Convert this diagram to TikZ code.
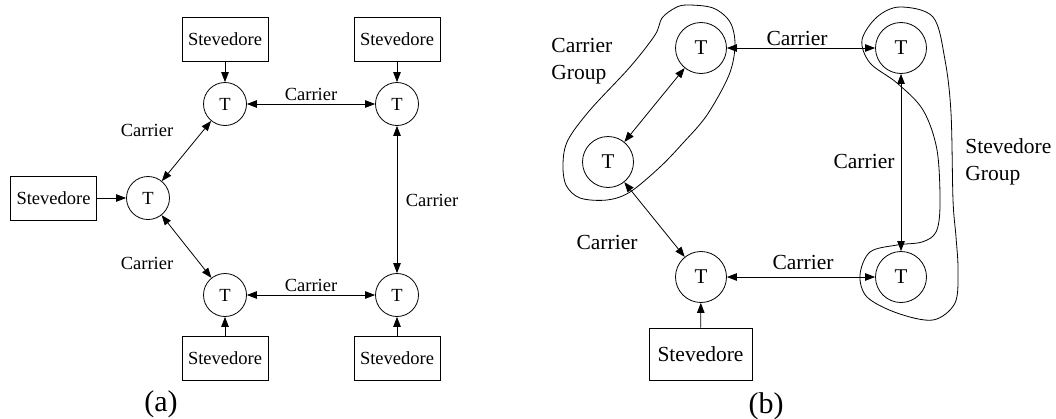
\documentclass[tikz,border=0pt]{standalone}
\usepackage{fontspec}
\setmainfont{Liberation Serif}
\usetikzlibrary{arrows.meta}
\begin{document}
\begin{tikzpicture}[x=1pt,y=-1pt,line width=0.8pt,
  >={Triangle[length=10pt,width=7.5pt]},
  dbl/.style={<->},
  sgl/.style={->},
  ltnode/.style={circle,draw,minimum size=43pt,inner sep=0pt,font=\fontsize{18.5}{22}\selectfont},
  lbox/.style={rectangle,draw,minimum width=86pt,minimum height=44pt,inner sep=0pt,font=\fontsize{18.5}{22}\selectfont},
  ltxt/.style={inner sep=0pt,font=\fontsize{18.5}{22}\selectfont},
  rtnode/.style={circle,draw,minimum size=51pt,inner sep=0pt,font=\fontsize{21}{25}\selectfont},
  rbox/.style={rectangle,draw,minimum width=103pt,minimum height=52pt,inner sep=0pt,font=\fontsize{21.5}{26}\selectfont},
  rtxt/.style={inner sep=0pt,font=\fontsize{21.5}{27}\selectfont},
  captxt/.style={inner sep=0pt,font=\fontsize{30}{34}\selectfont},
  blob/.style={line width=0.8pt,smooth cycle,tension=0.55}]
\useasboundingbox (0,0) rectangle (1056,418);
% ---------- (a) ----------
\node[ltnode] (aL)  at (148,198) {T};
\node[ltnode] (aTL) at (225,104) {T};
\node[ltnode] (aBL) at (225,295) {T};
\node[ltnode] (aTR) at (397,104) {T};
\node[ltnode] (aBR) at (397,295) {T};
\node[lbox] (sL)  at (53.5,198) {Stevedore};
\node[lbox] (sTL) at (225,39) {Stevedore};
\node[lbox] (sBL) at (225,358.5) {Stevedore};
\node[lbox] (sTR) at (397,39) {Stevedore};
\node[lbox] (sBR) at (397,358.5) {Stevedore};
\draw[sgl] (sL) -- (aL);
\draw[sgl] (sTL) -- (aTL);
\draw[sgl] (sBL) -- (aBL);
\draw[sgl] (sTR) -- (aTR);
\draw[sgl] (sBR) -- (aBR);
\draw[dbl] (aTL) -- (aL);
\draw[dbl] (aL) -- (aBL);
\draw[dbl] (aTL) -- (aTR);
\draw[dbl] (aBL) -- (aBR);
\draw[dbl] (aTR) -- (aBR);
\node[ltxt] (c1) at (147,130) {Carrier};
\node[ltxt] (c2) at (147,263) {Carrier};
\node[ltxt] (c3) at (311,94) {Carrier};
\node[ltxt] (c4) at (311,285) {Carrier};
\node[ltxt] (c5) at (432,200) {Carrier};
\node[captxt] (capa) at (161,404) {(a)};
% ---------- (b) ----------
\draw[blob] plot coordinates {(687,5) (713,8) (730,22) (735,45) (729,75) (707,115) (683,143) (660,167) (630,192) (607,200) (580,198) (566,185) (563,163) (568,140) (590,110) (630,67) (655,35) (662,18) (675,8)};
\draw[blob] plot coordinates {(900,7) (933,17) (945,60) (951,113) (953,200) (956,237) (958,270) (955,303) (933,320) (897,313) (867,297) (860,275) (870,252) (897,245) (922,242) (936,232) (940,205) (937,150) (923,110) (897,83) (870,63) (862,40) (877,17)};
\node[rtnode] (b1) at (701,48) {T};
\node[rtnode] (b2) at (608,162) {T};
\node[rtnode] (b3) at (701,277) {T};
\node[rtnode] (b4) at (901,48) {T};
\node[rtnode] (b5) at (901,277) {T};
\node[rbox] (sb) at (700.5,354) {Stevedore};
\draw[sgl] (sb) -- (b3);
\draw[dbl] (b1) -- (b2);
\draw[dbl] (b2) -- (b3);
\draw[dbl] (b1) -- (b4);
\draw[dbl] (b4) -- (b5);
\draw[dbl] (b3) -- (b5);
\node[rtxt] (d1) at (797,38) {Carrier};
\node[rtxt] (d2) at (864,161) {Carrier};
\node[rtxt] (d3) at (607,242) {Carrier};
\node[rtxt] (d4) at (803,262) {Carrier};
\node[rtxt,align=left,anchor=north west] (cg) at (551,38) {Carrier\\Group};
\node[rtxt,align=left,anchor=north west] (sg) at (965,138) {Stevedore\\Group};
\node[captxt] (capb) at (766,406) {(b)};
\end{tikzpicture}
\end{document}
